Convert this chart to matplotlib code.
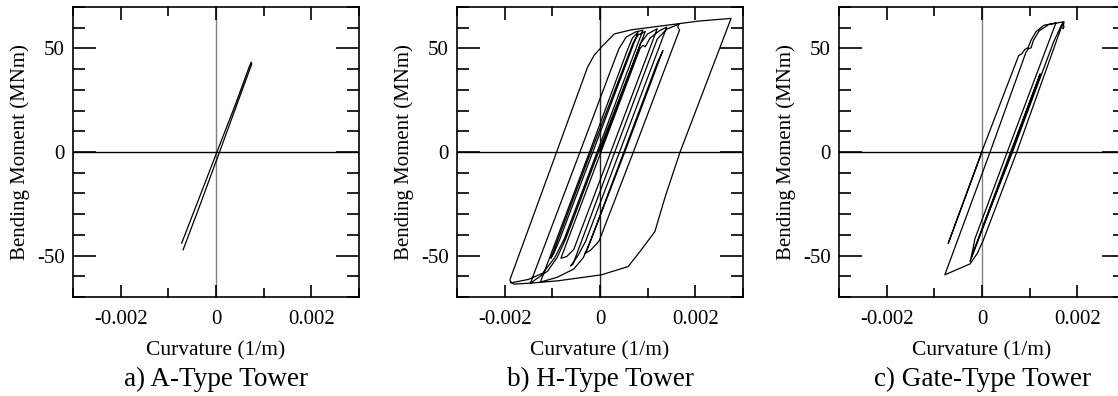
import numpy as np
import matplotlib.pyplot as plt
from matplotlib.ticker import MultipleLocator

plt.rcParams['font.family'] = ['Liberation Serif', 'DejaVu Serif']
plt.rcParams['axes.unicode_minus'] = False

# curvature read in units of 1e-3 1/m, moment in MNm
a_curv = [-0.72, -0.35, 0.02, 0.40, 0.70, 0.74, 0.75, 0.40, 0.05, -0.35, -0.69]
a_moment = [-44.0, -22.0, 0.0, 22.5, 41.3, 43.3, 42.5, 20.5, -1.5, -26.5, -47.2]

b_curv = [0.0, 0.75, 0.85, 1.0, 1.2,
          0.225, -0.55, -0.7, -0.82,
          0.02, 0.84, 0.9, 0.95, 1.05, 1.25, 1.4,
          0.41, -0.3, -0.45, -0.55, -0.62, -0.57,
          0.31, 1.2, 1.4, 1.6, 1.66, 1.63, 1.67,
          0.70, -0.02, -0.2, -0.32, -0.28,
          0.50, 1.2, 1.32,
          0.52, -0.2, -0.35, -0.55, -0.9, -1.25,
          -0.22, 0.58, 0.68, 0.8,
          -0.15, -0.85, -0.97, -1.03,
          -0.19, 0.7, 0.8, 0.95,
          -0.03, -0.72, -0.9, -1.1, -1.46,
          -0.42, 0.25, 0.4, 0.55, 0.75, 0.9,
          -0.06, -0.75, -0.95, -1.2, -1.5, -1.87, -1.89,
          -0.91, -0.26, -0.12, 0.06, 0.3, 0.66, 1.37, 2.07, 2.75,
          1.68, 1.38, 1.15, 0.84, 0.59, 0.03, -0.89, -1.46, -1.81, -1.86]
b_moment = [0.0, 46.0, 52.5, 57.0, 59.5,
            0.0, -47.0, -50.5, -51.3,
            0.0, 50.0, 51.5, 50.8, 55.0, 58.6, 60.3,
            0.0, -43.0, -49.5, -53.0, -55.0, -54.3,
            0.0, 54.5, 59.3, 61.2, 61.8, 60.3, 59.0,
            0.0, -43.0, -47.5, -49.0, -47.8,
            0.0, 43.0, 49.0,
            0.0, -43.0, -51.0, -56.5, -60.5, -62.8,
            0.0, 49.5, 55.0, 57.9,
            0.0, -42.5, -49.0, -51.3,
            0.0, 53.0, 56.5, 58.2,
            0.0, -42.0, -51.0, -57.5, -63.3,
            0.0, 41.0, 50.0, 55.5, 58.0, 58.8,
            0.0, -42.0, -51.0, -58.5, -61.5, -63.2, -61.7,
            0.0, 41.0, 46.8, 51.4, 57.0, 59.0, 61.1, 63.2, 64.5,
            0.0, -20.7, -38.5, -48.0, -55.3, -59.3, -62.2, -63.3, -63.8, -62.8]

c_curv = [0.0, -0.71, 0.0, 0.77, 0.83, 0.9, 0.97, 1.03, 1.13, 1.3, 1.55,
          0.53, -0.15, -0.2, -0.25,
          0.62, 1.22,
          0.60, -0.22,
          0.64, 1.5, 1.6, 1.66, 1.7,
          0.73, 0.02, -0.1, -0.25, -0.46, -0.6, -0.78,
          0.17, 0.92, 0.97, 1.03, 1.08, 1.2, 1.4, 1.6, 1.72, 1.70, 1.72]
c_moment = [0.0, -44.2, 0.4, 46.6, 47.3, 49.5, 50.5, 54.0, 58.0, 61.2, 62.3,
            0.0, -42.0, -48.0, -52.9,
            0.0, 37.7,
            0.0, -50.5,
            0.0, 53.0, 58.0, 61.0, 62.5,
            0.0, -43.0, -49.0, -54.0, -56.1, -57.5, -59.3,
            0.0, 48.0, 49.8, 50.3, 54.0, 58.5, 61.5, 62.4, 62.9, 59.5, 60.5]

titles = ['a) A-Type Tower', 'b) H-Type Tower', 'c) Gate-Type Tower']
x_ticks = [-0.002, 0, 0.002]
x_tick_labels = ['-0.002', '0', '0.002']
y_ticks = [-50, 0, 50]
y_tick_labels = ['-50', '0', '50']

curves = [(a_curv, a_moment), (b_curv, b_moment), (c_curv, c_moment)]
zero_colors = ['#808080', '#222222', '#808080']
lefts = [73, 457, 839]

fig = plt.figure(figsize=(11.18, 3.96), dpi=100)

for i, (cx, my) in enumerate(curves):
    ax = fig.add_axes([lefts[i] / 1118, 99 / 396, 286 / 1118, 290 / 396])
    ax.axvline(0, color=zero_colors[i], lw=1.0, zorder=1)
    ax.axhline(0, color='black', lw=1.0, zorder=1)
    ax.plot(np.array(cx) * 1e-3, my, color='black', lw=0.9, zorder=2)

    ax.set_xlim(-0.003, 0.003)
    ax.set_ylim(-70, 70)
    ax.set_xticks(x_ticks)
    ax.set_xticklabels(x_tick_labels)
    ax.set_yticks(y_ticks)
    ax.set_yticklabels(y_tick_labels)
    ax.xaxis.set_minor_locator(MultipleLocator(0.001))
    ax.yaxis.set_minor_locator(MultipleLocator(10))

    ax.tick_params(axis='both', which='both', direction='in', top=True, right=True,
                   labelsize=15, width=1.2, colors='black')
    ax.tick_params(axis='x', which='major', length=9, pad=9)
    ax.tick_params(axis='x', which='minor', length=6.5)
    ax.tick_params(axis='y', which='major', length=16.5, pad=6)
    ax.tick_params(axis='y', which='minor', length=8.5)
    for s in ax.spines.values():
        s.set_linewidth(1.2)

    ax.set_xlabel('Curvature (1/m)', fontsize=15.5, labelpad=9)
    ax.set_ylabel('Bending Moment (MNm)', fontsize=15, labelpad=5)

    fig.text((lefts[i] + 143) / 1118, (396 - 379) / 396, titles[i],
             fontsize=19.5, ha='center', va='center')

fig.savefig('out.png', dpi=100)
